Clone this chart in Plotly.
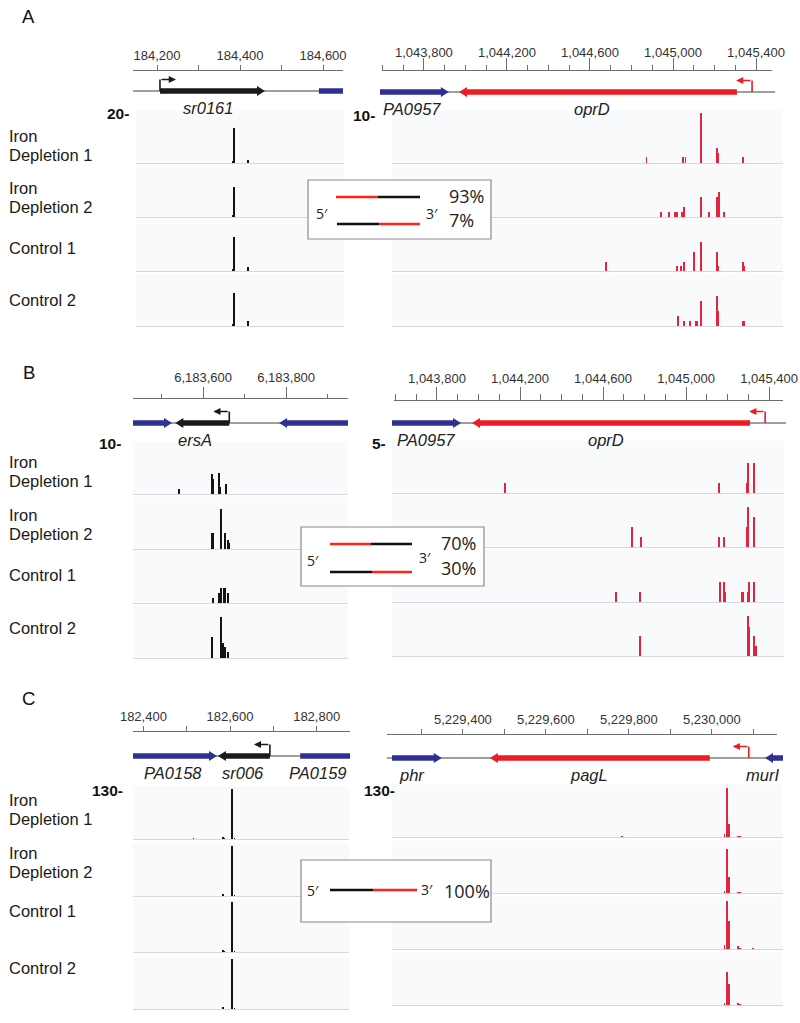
import plotly.graph_objects as go

W, H = 800, 1023

# ============================ DATA ============================
TRACK_LINES = [["Iron", "Depletion 1"], ["Iron", "Depletion 2"], ["Control 1"], ["Control 2"]]
PANEL_LETTERS = ["A", "B", "C"]

# ---- Panel A, left: sr0161 locus ----
A_L_RANGE = [184142, 184648]
A_L_GENE_NAMES = ["sr0161", ""]
A_L_GENE_KIND = ["srna", "neighbor"]
A_L_GENE_LEFT = [184207, 184590]
A_L_GENE_RIGHT = [184460, 184690]
A_L_GENE_STRAND = [1, 0]
A_L_LABEL_POS = [184323, None]
A_L_TSS = [184207, 1]
A_L_SCALE = 20
A_L_PEAK_POS = [
    [184378, 184380, 184414],
    [184378, 184380],
    [184378, 184380, 184414],
    [184378, 184380, 184414],
]
A_L_PEAK_VAL = [
    [1.0, 14.0, 1.2],
    [1.0, 12.0],
    [1.0, 13.6, 1.6],
    [1.0, 13.2, 2.0],
]

# ---- Panel A, right: oprD locus ----
A_R_RANGE = [1043598, 1045477]
A_R_GENE_NAMES = ["PA0957", "oprD"]
A_R_GENE_KIND = ["neighbor", "target"]
A_R_GENE_LEFT = [1043540, 1043969]
A_R_GENE_RIGHT = [1043920, 1045308]
A_R_GENE_STRAND = [1, -1]
A_R_LABEL_POS = [1043742, 1044610]
A_R_TSS = [1045381, -1]
A_R_SCALE = 10
A_R_PEAK_POS = [
    [1044822, 1044997, 1045007, 1045083, 1045160, 1045166, 1045285],
    [1044891, 1044929, 1044958, 1044968, 1044992, 1045002, 1045083, 1045086, 1045122,
     1045160, 1045165, 1045170, 1045194],
    [1044627, 1044968, 1044987, 1045002, 1045049, 1045083, 1045160, 1045165, 1045285, 1045290],
    [1044973, 1045002, 1045030, 1045059, 1045064, 1045083, 1045160, 1045165, 1045285, 1045290],
]
A_R_PEAK_VAL = [
    [1.2, 1.2, 1.2, 10.0, 3.0, 2.0, 1.2],
    [1.0, 1.0, 1.0, 1.0, 1.0, 2.0, 4.0, 1.0, 1.0, 4.0, 3.0, 5.0, 1.0],
    [1.9, 1.0, 1.0, 1.9, 3.9, 5.9, 3.9, 1.0, 1.9, 1.0],
    [2.0, 1.0, 1.0, 1.0, 1.0, 5.0, 6.0, 3.0, 1.0, 1.0],
]
A_PCT = ["93%", "7%"]

# ---- Panel B, left: ersA locus ----
B_L_RANGE = [6183431, 6183949]
B_L_GENE_NAMES = ["", "ersA", ""]
B_L_GENE_KIND = ["neighbor", "srna", "neighbor"]
B_L_GENE_LEFT = [6183400, 6183533, 6183783]
B_L_GENE_RIGHT = [6183525, 6183663, 6183980]
B_L_GENE_STRAND = [1, -1, -1]
B_L_LABEL_POS = [None, 6183581, None]
B_L_TSS = [6183663, -1]
B_L_SCALE = 10
B_L_PEAK_POS = [
    [6183542, 6183621, 6183624, 6183638, 6183641, 6183655],
    [6183621, 6183624, 6183643, 6183653, 6183660, 6183662],
    [6183624, 6183638, 6183643, 6183650, 6183653, 6183660],
    [6183621, 6183643, 6183648, 6183653, 6183660],
]
B_L_PEAK_VAL = [
    [1.0, 4.0, 3.0, 4.2, 1.5, 2.0],
    [3.2, 3.2, 8.0, 3.2, 1.8, 1.2],
    [1.0, 2.0, 3.0, 3.0, 3.0, 2.0],
    [4.2, 8.2, 3.0, 2.2, 1.2],
]

# ---- Panel B, right: oprD locus ----
B_R_RANGE = [1043593, 1045467]
B_R_GENE_NAMES = ["PA0957", "oprD"]
B_R_GENE_KIND = ["neighbor", "target"]
B_R_GENE_LEFT = [1043540, 1043969]
B_R_GENE_RIGHT = [1043916, 1045308]
B_R_GENE_STRAND = [1, -1]
B_R_LABEL_POS = [1043747, 1044614]
B_R_TSS = [1045381, -1]
B_R_SCALE = 5
B_R_PEAK_POS = [
    [1044133, 1045156, 1045290, 1045295, 1045324],
    [1044740, 1044784, 1045156, 1045180, 1045290, 1045295, 1045324],
    [1044664, 1044779, 1045161, 1045180, 1045185, 1045266, 1045271, 1045295, 1045300, 1045324],
    [1044779, 1045295, 1045300, 1045324, 1045333],
]
B_R_PEAK_VAL = [
    [1.0, 1.0, 1.0, 3.0, 3.0],
    [2.0, 1.0, 1.0, 1.0, 2.0, 4.0, 3.0],
    [1.0, 1.0, 2.0, 2.0, 1.0, 1.0, 1.0, 1.0, 2.0, 2.0],
    [2.0, 4.0, 2.9, 2.0, 1.0],
]
B_PCT = ["70%", "30%"]

# ---- Panel C, left: sr006 locus ----
C_L_RANGE = [182376, 182877]
C_L_GENE_NAMES = ["PA0158", "sr006", "PA0159"]
C_L_GENE_KIND = ["neighbor", "srna", "neighbor"]
C_L_GENE_LEFT = [182340, 182572, 182762]
C_L_GENE_RIGHT = [182570, 182692, 182900]
C_L_GENE_STRAND = [1, -1, 0]
C_L_LABEL_POS = [182468, 182630, 182803]
C_L_TSS = [182692, -1]
C_L_SCALE = 130
C_L_PEAK_POS = [
    [182517, 182585, 182587, 182604, 182606, 182612],
    [182585, 182604, 182606, 182612],
    [182585, 182587, 182604, 182606, 182612],
    [182585, 182604, 182606, 182612],
]
C_L_PEAK_VAL = [
    [1.5, 5.0, 3.0, 4.0, 130.0, 2.0],
    [4.0, 3.0, 130.0, 2.0],
    [6.0, 3.0, 4.0, 130.0, 2.0],
    [4.0, 4.0, 130.0, 2.0],
]

# ---- Panel C, right: pagL locus ----
C_R_RANGE = [5229217, 5230157]
C_R_GENE_NAMES = ["phr", "pagL", "murI"]
C_R_GENE_KIND = ["neighbor", "target", "neighbor"]
C_R_GENE_LEFT = [5229229, 5229465, 5230128]
C_R_GENE_RIGHT = [5229349, 5229995, 5230200]
C_R_GENE_STRAND = [1, -1, -1]
C_R_LABEL_POS = [5229277, 5229704, 5230123]
C_R_TSS = [5230089, -1]
C_R_SCALE = 130
C_R_PEAK_POS = [
    [5229770, 5230017, 5230022, 5230027, 5230049, 5230054],
    [5230017, 5230022, 5230027, 5230049, 5230054],
    [5230017, 5230022, 5230027, 5230049, 5230054, 5230085],
    [5230017, 5230022, 5230027, 5230049, 5230054],
]
C_R_PEAK_VAL = [
    [1.5, 8.0, 128.0, 35.0, 3.0, 3.0],
    [6.0, 115.0, 41.0, 3.0, 2.0],
    [10.0, 125.0, 74.0, 8.0, 3.0, 1.5],
    [6.0, 87.0, 54.0, 5.0, 2.0],
]
C_PCT = ["100%"]

DATA = {
    "A_L": dict(rng=A_L_RANGE, names=A_L_GENE_NAMES, kind=A_L_GENE_KIND, left=A_L_GENE_LEFT,
                right=A_L_GENE_RIGHT, strand=A_L_GENE_STRAND, lab=A_L_LABEL_POS, tss=A_L_TSS,
                scale=A_L_SCALE, pos=A_L_PEAK_POS, val=A_L_PEAK_VAL),
    "A_R": dict(rng=A_R_RANGE, names=A_R_GENE_NAMES, kind=A_R_GENE_KIND, left=A_R_GENE_LEFT,
                right=A_R_GENE_RIGHT, strand=A_R_GENE_STRAND, lab=A_R_LABEL_POS, tss=A_R_TSS,
                scale=A_R_SCALE, pos=A_R_PEAK_POS, val=A_R_PEAK_VAL),
    "B_L": dict(rng=B_L_RANGE, names=B_L_GENE_NAMES, kind=B_L_GENE_KIND, left=B_L_GENE_LEFT,
                right=B_L_GENE_RIGHT, strand=B_L_GENE_STRAND, lab=B_L_LABEL_POS, tss=B_L_TSS,
                scale=B_L_SCALE, pos=B_L_PEAK_POS, val=B_L_PEAK_VAL),
    "B_R": dict(rng=B_R_RANGE, names=B_R_GENE_NAMES, kind=B_R_GENE_KIND, left=B_R_GENE_LEFT,
                right=B_R_GENE_RIGHT, strand=B_R_GENE_STRAND, lab=B_R_LABEL_POS, tss=B_R_TSS,
                scale=B_R_SCALE, pos=B_R_PEAK_POS, val=B_R_PEAK_VAL),
    "C_L": dict(rng=C_L_RANGE, names=C_L_GENE_NAMES, kind=C_L_GENE_KIND, left=C_L_GENE_LEFT,
                right=C_L_GENE_RIGHT, strand=C_L_GENE_STRAND, lab=C_L_LABEL_POS, tss=C_L_TSS,
                scale=C_L_SCALE, pos=C_L_PEAK_POS, val=C_L_PEAK_VAL),
    "C_R": dict(rng=C_R_RANGE, names=C_R_GENE_NAMES, kind=C_R_GENE_KIND, left=C_R_GENE_LEFT,
                right=C_R_GENE_RIGHT, strand=C_R_GENE_STRAND, lab=C_R_LABEL_POS, tss=C_R_TSS,
                scale=C_R_SCALE, pos=C_R_PEAK_POS, val=C_R_PEAK_VAL),
}

# ============================ STYLE / LAYOUT ============================
SANS = "Liberation Sans, Arial, Helvetica, sans-serif"
LEGF = "Open Sans, Noto Sans, sans-serif"
KIND_COLOR = {"srna": "#1a1a1a", "target": "#ec1c24", "neighbor": "#2e3192"}
BAR_COLOR = {"srna": "#141414", "target": "#e2243e"}
RULER_COLOR = "#6e6e6e"

SUB = [
    dict(key="A_L", side="srna", ruler_x=(133, 343), ruler_y=71, tick0=184200, dtick=200, major=5, minor=5,
         standoff=0, gene_x=(133, 343), gene_y=91, track_x=(136, 344), base=[163, 217, 271, 326],
         scale_lab=(131, 113)),
    dict(key="A_R", side="target", ruler_x=(382, 772), ruler_y=71, tick0=1043800, dtick=400, major=12, minor=5,
         standoff=-4, gene_x=(380, 775), gene_y=92, track_x=(392, 783), base=[163, 217, 271, 326],
         scale_lab=(377, 115)),
    dict(key="B_L", side="srna", ruler_x=(133, 348), ruler_y=399, tick0=6183600, dtick=200, major=11, minor=4,
         standoff=0, gene_x=(133, 348), gene_y=423, track_x=(133, 348), base=[494, 549, 603, 658],
         scale_lab=(123, 443)),
    dict(key="B_R", side="target", ruler_x=(394, 783), ruler_y=401, tick0=1043800, dtick=400, major=13, minor=6,
         standoff=-1, gene_x=(392, 786), gene_y=423, track_x=(392, 784), base=[493, 547, 602, 656],
         scale_lab=(388, 443)),
    dict(key="C_L", side="srna", ruler_x=(133, 350), ruler_y=732, tick0=182400, dtick=200, major=5, minor=5,
         standoff=0, gene_x=(133, 350), gene_y=756, track_x=(133, 349), base=[839, 896, 952, 1009],
         scale_lab=(125, 790)),
    dict(key="C_R", side="target", ruler_x=(387, 777), ruler_y=735, tick0=5229400, dtick=200, major=5, minor=5,
         standoff=0, gene_x=(387, 783), gene_y=758, track_x=(392, 783), base=[837, 893, 949, 1005],
         scale_lab=(397, 790)),
]

PANEL_LETTER_Y = [17, 372, 698]
ROW_LABEL_Y = [
    [[136, 155], [188, 207], [248], [300]],
    [[462, 481], [515, 534], [575], [628]],
    [[800, 819], [853, 872], [911], [968]],
]

LEG = [
    dict(box=(308, 180, 491, 239),
         rows=[(197, [(336, 378, "r"), (378, 420, "k")]), (224, [(337, 379, "k"), (379, 420, "r")])],
         five=(322, 213), three=(432, 213), pct_x=447, pct_y=[196, 220], pct=A_PCT),
    dict(box=(301, 527, 484, 586),
         rows=[(544, [(330, 371, "r"), (371, 412, "k")]), (572, [(330, 372, "k"), (372, 412, "r")])],
         five=(313, 560), three=(425, 557), pct_x=439, pct_y=[543, 568], pct=B_PCT),
    dict(box=(301, 860, 491, 922),
         rows=[(890, [(330, 373, "k"), (373, 417, "r")])],
         five=(313, 890), three=(427, 889), pct_x=442, pct_y=[891], pct=C_PCT),
]
LEG_COL = {"r": "#ff2419", "k": "#111111"}


def PX(p):
    return p / W


def PY(p):
    return 1 - p / H


layout = dict(width=W, height=H, margin=dict(l=0, r=0, t=0, b=0, pad=0, autoexpand=False),
              paper_bgcolor="white", plot_bgcolor="rgba(0,0,0,0)", showlegend=False,
              barmode="overlay", bargap=0)
traces, shapes, annots = [], [], []
counter = [0]


def new_axes(xdom, ydom, xr, yr, xopts=None):
    counter[0] += 1
    i = counter[0]
    s = "" if i == 1 else str(i)
    xa = dict(domain=[PX(xdom[0]), PX(xdom[1])], range=xr, anchor="y" + s, showgrid=False, zeroline=False,
              showticklabels=False, ticks="", showline=False, fixedrange=True, automargin=False)
    if xopts:
        xa.update(xopts)
    ya = dict(domain=[PY(ydom[1]), PY(ydom[0])], range=yr, anchor="x" + s, visible=False,
              showgrid=False, zeroline=False, fixedrange=True, automargin=False)
    layout["xaxis" + s] = xa
    layout["yaxis" + s] = ya
    traces.append(go.Scatter(x=[xr[0]], y=[yr[0]], mode="markers", marker=dict(opacity=0),
                             xaxis="x" + s, yaxis="y" + s, hoverinfo="skip"))
    return "x" + s, "y" + s


BODY, HEAD, HEADLEN_PX, PROM_H, PROM_LEN_PX = 0.28, 0.5, 8, 1.15, 16

for sp in SUB:
    d = DATA[sp["key"]]
    r0, r1 = d["rng"]
    rx0, rx1 = sp["ruler_x"]
    bpp = (r1 - r0) / (rx1 - rx0)

    # ruler
    new_axes(sp["ruler_x"], (sp["ruler_y"], sp["ruler_y"] + 3), [r0, r1], [0, 1], dict(
        side="top", showline=True, linecolor=RULER_COLOR, linewidth=1, ticks="outside",
        ticklen=sp["major"], tickcolor=RULER_COLOR, tickwidth=1, showticklabels=True,
        tickformat=",d", tick0=sp["tick0"], dtick=sp["dtick"], ticklabelstandoff=sp["standoff"],
        tickfont=dict(family=SANS, size=13, color="#333333"),
        minor=dict(tick0=sp["tick0"], dtick=100, ticks="outside", ticklen=sp["minor"],
                   tickcolor=RULER_COLOR, tickwidth=1, showgrid=False)))

    # gene track
    gx0, gx1 = sp["gene_x"]
    grange = [r0 + (gx0 - rx0) * bpp, r0 + (gx1 - rx0) * bpp]
    gy = sp["gene_y"]
    xg, yg = new_axes(sp["gene_x"], (gy - 12, gy + 12), grange, [-1.2, 1.2])
    traces.append(go.Scatter(x=grange, y=[0, 0], mode="lines", line=dict(color="#7f7f7f", width=1.5),
                             xaxis=xg, yaxis=yg, hoverinfo="skip"))
    h = HEADLEN_PX * bpp
    for name, kind, L, R, st, lp in zip(d["names"], d["kind"], d["left"], d["right"], d["strand"], d["lab"]):
        if st == 1:
            xs = [L, R - h, R - h, R, R - h, R - h, L, L]
            ys = [-BODY, -BODY, -HEAD, 0, HEAD, BODY, BODY, -BODY]
        elif st == -1:
            xs = [R, L + h, L + h, L, L + h, L + h, R, R]
            ys = [-BODY, -BODY, -HEAD, 0, HEAD, BODY, BODY, -BODY]
        else:
            xs = [L, R, R, L, L]
            ys = [-BODY, -BODY, BODY, BODY, -BODY]
        traces.append(go.Scatter(x=xs, y=ys, mode="lines", fill="toself", fillcolor=KIND_COLOR[kind],
                                 line=dict(width=0, color=KIND_COLOR[kind]), xaxis=xg, yaxis=yg,
                                 hoverinfo="skip"))
        if name and lp is not None:
            annots.append(dict(x=lp, y=0, xref=xg, yref=yg, yshift=-17, showarrow=False,
                               text="<i>%s</i>" % name, font=dict(family=SANS, size=16.5, color="#222222"),
                               xanchor="center", yanchor="middle"))
    tss, tst = d["tss"]
    pcol = KIND_COLOR[sp["side"]]
    traces.append(go.Scatter(x=[tss, tss], y=[0, PROM_H], mode="lines", line=dict(color=pcol, width=1.6),
                             xaxis=xg, yaxis=yg, hoverinfo="skip"))
    annots.append(dict(x=tss + tst * PROM_LEN_PX * bpp, y=PROM_H, ax=tss, ay=PROM_H, xref=xg, yref=yg,
                       axref=xg, ayref=yg, showarrow=True, arrowhead=2, arrowsize=0.9, arrowwidth=1.6,
                       arrowcolor=pcol, text=""))

    # coverage tracks
    tx0, tx1 = sp["track_x"]
    bw = 1.4 * (r1 - r0) / (tx1 - tx0)
    for t, b in enumerate(sp["base"]):
        xt, yt = new_axes(sp["track_x"], (b - 50, b), [r0, r1], [0, d["scale"]],
                          dict(showline=True, linecolor="#d6d8de", linewidth=1))
        shapes.append(dict(type="rect", xref=xt + " domain", yref=yt + " domain", x0=0, x1=1, y0=0, y1=1.05,
                           fillcolor="#f9fafc", line=dict(width=0), layer="below"))
        traces.append(go.Bar(x=d["pos"][t], y=d["val"][t], width=bw,
                             marker=dict(color=BAR_COLOR[sp["side"]], line=dict(width=0)),
                             xaxis=xt, yaxis=yt, hoverinfo="skip"))

    sx, sy = sp["scale_lab"]
    annots.append(dict(x=PX(sx), y=PY(sy), xref="paper", yref="paper", showarrow=False,
                       text="<b>%d-</b>" % d["scale"], font=dict(family=SANS, size=15.5, color="#111111"),
                       xanchor="right", yanchor="middle"))

# panel letters and row labels
for p, letter in enumerate(PANEL_LETTERS):
    annots.append(dict(x=PX(29), y=PY(PANEL_LETTER_Y[p]), xref="paper", yref="paper", showarrow=False,
                       text=letter, font=dict(family=SANS, size=18.5, color="#111111"),
                       xanchor="center", yanchor="middle"))
    for t, lines in enumerate(TRACK_LINES):
        for ln, yy in zip(lines, ROW_LABEL_Y[p][t]):
            annots.append(dict(x=PX(7), y=PY(yy), xref="paper", yref="paper", showarrow=False, text=ln,
                               font=dict(family=SANS, size=16.5, color="#1a1a1a"),
                               xanchor="left", yanchor="middle"))

# strand-ratio boxes
for lg in LEG:
    x0, y0, x1, y1 = lg["box"]
    shapes.append(dict(type="rect", xref="paper", yref="paper", x0=PX(x0), x1=PX(x1), y0=PY(y1), y1=PY(y0),
                       fillcolor="white", line=dict(color="#8a8a8a", width=1.2), layer="above"))
    for yy, segs in lg["rows"]:
        for a, b, c in segs:
            shapes.append(dict(type="line", xref="paper", yref="paper", x0=PX(a), x1=PX(b), y0=PY(yy),
                               y1=PY(yy), line=dict(color=LEG_COL[c], width=2.6), layer="above"))
    annots.append(dict(x=PX(lg["five"][0]), y=PY(lg["five"][1]), xref="paper", yref="paper", showarrow=False,
                       text="5\u2032", font=dict(family=LEGF, size=14, color="#222222"),
                       xanchor="center", yanchor="middle"))
    annots.append(dict(x=PX(lg["three"][0]), y=PY(lg["three"][1]), xref="paper", yref="paper",
                       showarrow=False, text="3\u2032", font=dict(family=LEGF, size=14, color="#222222"),
                       xanchor="center", yanchor="middle"))
    for txt, yy in zip(lg["pct"], lg["pct_y"]):
        annots.append(dict(x=PX(lg["pct_x"]), y=PY(yy), xref="paper", yref="paper", showarrow=False,
                           text=txt, font=dict(family=LEGF, size=18, color="#222222"),
                           xanchor="left", yanchor="middle"))

layout["shapes"] = shapes
layout["annotations"] = annots
fig = go.Figure(data=traces, layout=layout)
fig.write_html("out.html", config={"displayModeBar": False, "staticPlot": True},
               post_script="document.body.style.margin='0px';document.body.style.padding='0px';"
                           "document.body.style.overflow='hidden';")
